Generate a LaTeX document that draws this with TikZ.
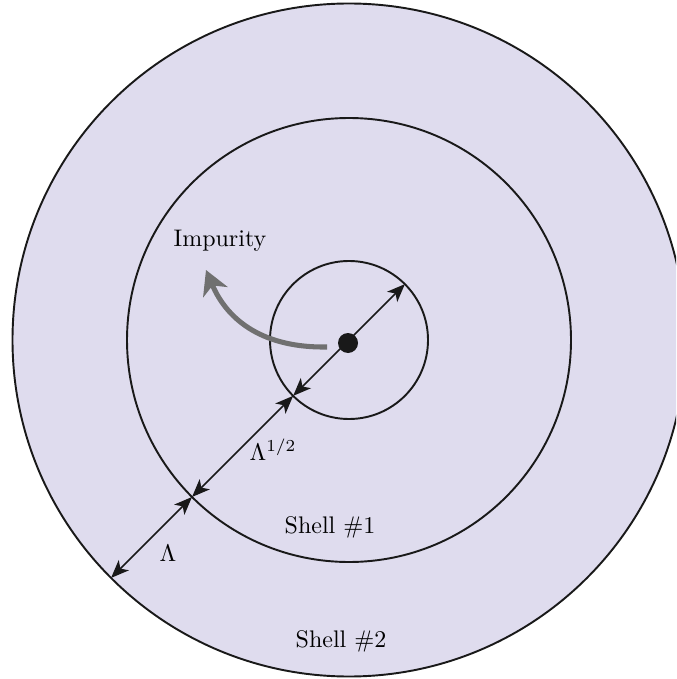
\documentclass[tikz,border=0pt]{standalone}
\usetikzlibrary{arrows.meta,calc}
\definecolor{shellfill}{RGB}{223,220,238}
\definecolor{arrowgray}{RGB}{112,112,112}
\begin{document}
\begin{tikzpicture}[x=0.41667pt,y=-0.41667pt,
  ring/.style={draw=black!90,line width=0.8pt},
  dim/.style={draw=black!90,line width=0.6pt,{Stealth[length=7.5pt,width=6pt,inset=2pt]}-{Stealth[length=7.5pt,width=6pt,inset=2pt]}},
  lbl/.style={inner sep=0pt,font=\normalsize}]
\useasboundingbox (0,0) rectangle (676,679);
\coordinate (c) at (349,340);
\begin{scope}
\clip (0,0) rectangle (676,679);
\fill[shellfill] (c) circle[radius=336.5];
\draw[ring] (c) circle[radius=336.5];
\end{scope}
\draw[ring] (c) circle[radius=222];
\draw[ring] (c) circle[radius=79];
\fill[black!90] (348,343) circle[radius=10];
% boundary points along the diagonal
\coordinate (pin) at ($(c)+(-55.86,55.86)$);
\coordinate (pout) at ($(c)+(55.86,-55.86)$);
\coordinate (pmid) at ($(c)+(-156.98,156.98)$);
\coordinate (pouter) at ($(c)+(-237.94,237.94)$);
\draw[dim] (pin) -- (pout);
\draw[dim] (pmid) -- (pin);
\draw[dim] (pouter) -- (pmid);
% curved gray arrow
\coordinate (gs) at (327,347);
\coordinate (ge) at (206,270);
\draw[arrowgray,line width=2.1pt,-{Stealth[length=10pt,width=11pt,inset=3pt]}]
  (gs) .. controls (265,348) and (228,322) .. (ge);
% labels
\node[lbl] (imp) at (220,241) {Impurity};
\node[lbl] (lhalf) at (273,450) {$\Lambda^{1/2}$};
\node[lbl] (l1) at (168,553) {$\Lambda$};
\node[lbl] (s1) at (330,527) {Shell \#1};
\node[lbl] (s2) at (341,641) {Shell \#2};
\end{tikzpicture}
\end{document}
